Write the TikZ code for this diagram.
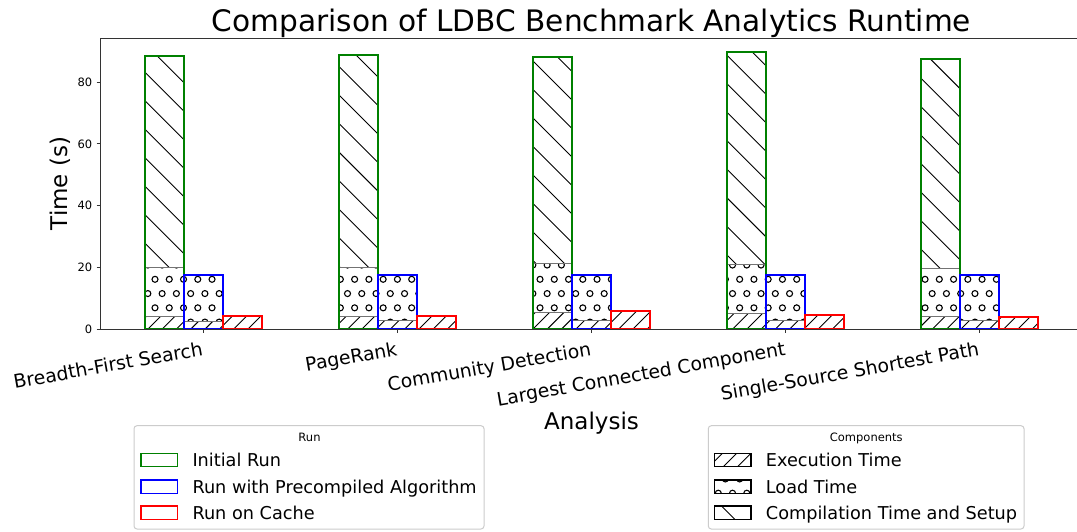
\documentclass[tikz,border=0pt]{standalone}
\usepackage{fontspec}
\setmainfont{DejaVu Sans}

\definecolor{mplgreen}{HTML}{008000}
\definecolor{mplblue}{HTML}{0000FF}
\definecolor{mplred}{HTML}{FF0000}
\definecolor{frameedge}{HTML}{CCCCCC}

\newcommand\fTitle{\fontsize{29.6}{35}\selectfont}
\newcommand\fAxis{\fontsize{23}{27}\selectfont}
\newcommand\fXtick{\fontsize{18.8}{22}\selectfont}
\newcommand\fYtick{\fontsize{11.5}{14}\selectfont}
\newcommand\fLeg{\fontsize{17.7}{21}\selectfont}
\newcommand\fLegTitle{\fontsize{11.5}{14}\selectfont}

\tikzset{
  hatchline/.style={line width=0.9pt, black},
  dotline/.style={line width=1.1pt, black},
  segedge/.style={line width=0.8pt, black!55},
  baredge/.style={line width=2pt, draw=#1},
  spine/.style={line width=1pt, black!80},
  tickmark/.style={line width=1pt, black!80},
  legframe/.style={draw=frameedge, line width=1pt, rounded corners=3pt, fill=white},
  legpatch/.style={line width=1.5pt, draw=#1},
  txt/.style={inner sep=0pt, text=black},
  catlabel/.style={txt, rotate=10, anchor=north east, font=\fXtick},
}

% '/' hatch: lines x+y = const (y grows downwards)
\newcommand\hatchexec[4]{%
  \begin{scope}
    \clip (#1,#3) rectangle (#2,#4);
    \pgfmathtruncatemacro\hLo{floor((#1+#3-434.3)/14.26)-1}%
    \pgfmathtruncatemacro\hHi{ceil((#2+#4-434.3)/14.26)+1}%
    \foreach \hn in {\hLo,...,\hHi}{%
      \pgfmathsetmacro\hK{434.3+14.26*\hn}%
      \draw[hatchline] ({\hK-(#4)},#4) -- ({\hK-(#3)},#3);
    }
  \end{scope}}

% '\' hatch: lines x-y = const
\newcommand\hatchcomp[4]{%
  \begin{scope}
    \clip (#1,#3) rectangle (#2,#4);
    \pgfmathtruncatemacro\hLo{floor((#1-(#4)-72.8)/28.52)-1}%
    \pgfmathtruncatemacro\hHi{ceil((#2-(#3)-72.8)/28.52)+1}%
    \foreach \hn in {\hLo,...,\hHi}{%
      \pgfmathsetmacro\hK{72.8+28.52*\hn}%
      \draw[hatchline] ({\hK+(#3)},#3) -- ({\hK+(#4)},#4);
    }
  \end{scope}}

% 'o' hatch: staggered rows of small circles
\newcommand\hatchload[4]{%
  \begin{scope}
    \clip (#1,#3) rectangle (#2,#4);
    \pgfmathtruncatemacro\hLo{floor((#3-279.3)/14.26)-1}%
    \pgfmathtruncatemacro\hHi{ceil((#4-279.3)/14.26)+1}%
    \pgfmathtruncatemacro\hMlo{floor((#1-155)/14.26)-1}%
    \pgfmathtruncatemacro\hMhi{ceil((#2-155)/14.26)+1}%
    \foreach \hr in {\hLo,...,\hHi}{%
      \pgfmathsetmacro\hRy{279.3+14.26*\hr}%
      \pgfmathsetmacro\hRx{155-7.13*mod(abs(\hr),2)}%
      \foreach \hm in {\hMlo,...,\hMhi}{%
        \draw[dotline] ({\hRx+14.26*\hm},\hRy) circle[radius=3];
      }
    }
  \end{scope}}

% one analysis group: centre, initial (exec, load, total), precompiled (exec, total), cache
\newcommand\barset[7]{%
  \pgfmathsetmacro\cA{#1-58.5}\pgfmathsetmacro\cB{#1-19.5}%
  \pgfmathsetmacro\cC{#1+19.5}\pgfmathsetmacro\cD{#1+58.5}%
  \pgfmathsetmacro\yGe{329-3.084*#2}%
  \pgfmathsetmacro\yGl{329-3.084*#3}%
  \pgfmathsetmacro\yGt{329-3.084*#4}%
  \pgfmathsetmacro\yBe{329-3.084*#5}%
  \pgfmathsetmacro\yBt{329-3.084*#6}%
  \pgfmathsetmacro\yRt{329-3.084*#7}%
  \hatchexec{\cA}{\cB}{\yGe}{329}%
  \hatchload{\cA}{\cB}{\yGl}{\yGe}%
  \hatchcomp{\cA}{\cB}{\yGt}{\yGl}%
  \draw[segedge] (\cA,\yGe) -- (\cB,\yGe) (\cA,\yGl) -- (\cB,\yGl);
  \draw[baredge=mplgreen] (\cA,329) rectangle (\cB,\yGt);
  \hatchexec{\cB}{\cC}{\yBe}{329}%
  \hatchload{\cB}{\cC}{\yBt}{\yBe}%
  \draw[segedge] (\cB,\yBe) -- (\cC,\yBe);
  \draw[baredge=mplblue] (\cB,329) rectangle (\cC,\yBt);
  \hatchexec{\cC}{\cD}{\yRt}{329}%
  \draw[baredge=mplred] (\cC,329) rectangle (\cD,\yRt);
}

\begin{document}
\begin{tikzpicture}[x=1pt,y=-1pt]
\useasboundingbox[fill=white] (0,0) rectangle (1077,531);

% bars
\barset{203.2}{4.2}{19.9}{88.6}{2.4}{17.5}{4.2}
\barset{397.5}{4.0}{19.9}{88.8}{2.7}{17.6}{4.2}
\barset{591.6}{5.5}{21.3}{88.3}{2.9}{17.5}{5.8}
\barset{785.8}{4.9}{20.8}{89.9}{2.9}{17.6}{4.5}
\barset{979.4}{4.0}{19.7}{87.5}{2.9}{17.5}{4.0}

% axes
\draw[spine] (1077,38) -- (100,38) -- (100,329) -- (1077,329);
\foreach \v in {0,20,40,60,80}{
  \draw[tickmark] (96.5,{329-3.084*\v}) -- (100,{329-3.084*\v});
  \node[txt, anchor=east, font=\fYtick] (ytick\v) at (92.5,{329-3.084*\v}) {\v};
}
\foreach \c in {203.2,397.5,591.6,785.8,979.4}{
  \draw[tickmark] (\c,329) -- (\c,332.5);
}

% category labels
\node[catlabel] (xt1) at (201.2,341) {Breadth-First Search};
\node[catlabel] (xt2) at (395.5,341) {PageRank};
\node[catlabel] (xt3) at (589.6,341) {Community Detection};
\node[catlabel] (xt4) at (783.8,341) {Largest Connected Component};
\node[catlabel] (xt5) at (977.4,341) {Single-Source Shortest Path};

% titles
\node[txt, anchor=base, font=\fTitle] (title) at (591.5,31.5) {Comparison of LDBC Benchmark Analytics Runtime};
\node[txt, anchor=base, font=\fAxis] (xlabel) at (591.5,429) {Analysis};
\node[txt, anchor=base, rotate=90, font=\fAxis] (ylabel) at (67,183.5) {Time (s)};

% legend: runs
\draw[legframe] (134,425.7) rectangle (484,529);
\node[txt, anchor=base, font=\fLegTitle] (runtitle) at (309.5,441.5) {Run};
\draw[legpatch=mplgreen] (141,453.3) rectangle (177.7,466.7);
\draw[legpatch=mplblue] (141,480) rectangle (177.7,493.3);
\draw[legpatch=mplred] (141,506) rectangle (177.7,519.3);
\node[txt, anchor=base west, font=\fLeg] (run1) at (192.3,466.6) {Initial Run};
\node[txt, anchor=base west, font=\fLeg] (run2) at (192.3,493.0) {Run with Precompiled Algorithm};
\node[txt, anchor=base west, font=\fLeg] (run3) at (192.3,519.3) {Run on Cache};

% legend: components
\draw[legframe] (708.3,425.7) rectangle (1024,529);
\node[txt, anchor=base, font=\fLegTitle] (comptitle) at (866.3,441.5) {Components};
\hatchexec{714.3}{751}{453.3}{466.7}
\draw[line width=1.2pt] (714.3,453.3) rectangle (751,466.7);
\hatchload{714.3}{751}{480}{493.3}
\draw[line width=1.2pt] (714.3,480) rectangle (751,493.3);
\hatchcomp{714.3}{751}{506}{519.3}
\draw[line width=1.2pt] (714.3,506) rectangle (751,519.3);
\node[txt, anchor=base west, font=\fLeg] (comp1) at (765.7,466.6) {Execution Time};
\node[txt, anchor=base west, font=\fLeg] (comp2) at (765.7,493.0) {Load Time};
\node[txt, anchor=base west, font=\fLeg] (comp3) at (765.7,519.3) {Compilation Time and Setup};
\end{tikzpicture}
\end{document}
